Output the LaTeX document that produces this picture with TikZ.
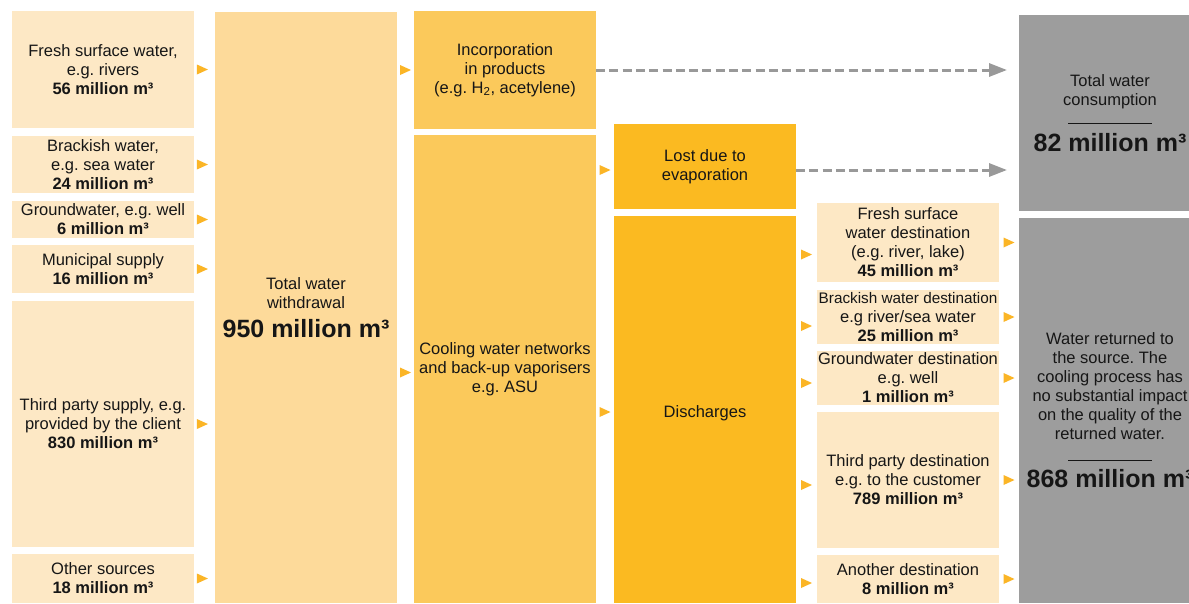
\documentclass[tikz,border=0pt]{standalone}
\usepackage{fontspec}
\setmainfont{Liberation Sans}
\frenchspacing
\usetikzlibrary{arrows.meta,decorations.markings}
\definecolor{pale}{HTML}{FDE8C5}
\definecolor{tan}{HTML}{FDDA9A}
\definecolor{mid}{HTML}{FBC95B}
\definecolor{deep}{HTML}{FBBA21}
\definecolor{stone}{HTML}{9D9D9D}
\definecolor{tipcol}{HTML}{FBB526}
\definecolor{ink}{HTML}{161616}
\definecolor{dashgrey}{HTML}{999999}
\newcommand\bigfig[1]{{\bfseries\fontsize{25}{29}\selectfont #1}}
\tikzset{
 box/.style={anchor=north west, inner sep=0pt, outer sep=0pt, minimum width=182pt,
   align=center, text=ink, font=\fontsize{16.5}{19}\selectfont},
 flow/.style={postaction={decorate}, decoration={markings, mark=at position #1 with
   {\fill[tipcol] (-5.5pt,-5pt) -- (5.5pt,0pt) -- (-5.5pt,5pt) -- cycle;}}},
 flow/.default=0.5,
 lossline/.style={draw=dashgrey, line width=3pt, dash pattern=on 9pt off 4.3pt,
   -{Triangle[length=18pt,width=13pt]}, shorten >=12pt},
}
\begin{document}
\begin{tikzpicture}[x=1pt,y=-1pt]
\useasboundingbox (0,0) rectangle (1189,603);
\fill[white] (0,0) rectangle (1189,603);
% sources
\node[box, fill=pale, minimum height=117pt] (s1) at (12,11) {Fresh surface water,\\e.g. rivers\\\textbf{56 million m³}};
\node[box, fill=pale, minimum height=57pt] (s2) at (12,136) {Brackish water,\\e.g. sea water\\\textbf{24 million m³}};
\node[box, fill=pale, minimum height=37pt] (s3) at (12,201) {Groundwater, e.g. well\\\textbf{6 million m³}};
\node[box, fill=pale, minimum height=48pt] (s4) at (12,245) {Municipal supply\\\textbf{16 million m³}};
\node[box, fill=pale, minimum height=246pt] (s5) at (12,301) {Third party supply, e.g.\\provided by the client\\\textbf{830 million m³}};
\node[box, fill=pale, minimum height=49pt] (s6) at (12,554) {Other sources\\\textbf{18 million m³}};
% total withdrawal
\node[box, fill=tan, minimum height=591pt] (total) at (215,12) {Total water\\withdrawal\\[10pt]\bigfig{950 million m³}};
% uses
\node[box, fill=mid, minimum height=118pt] (incorp) at (414,11) {Incorporation\\in products\\(e.g. H\textsubscript{2}, acetylene)};
\node[box, fill=mid, minimum height=468pt] (cooling) at (414,135) {Cooling water networks\\and back-up vaporisers\\e.g. ASU};
\node[box, fill=deep, minimum height=85pt] (lost) at (614,124) {Lost due to\\evaporation};
\node[box, fill=deep, minimum height=387pt] (disch) at (614,216) {\raisebox{-4pt}[\height][\depth]{Discharges}};
% destinations
\node[box, fill=pale, minimum height=79pt] (d1) at (817,203) {Fresh surface\\water destination\\(e.g. river, lake)\\\textbf{45 million m³}};
\node[box, fill=pale, minimum height=54pt] (d2) at (817,290) {{\fontsize{15.3}{19}\selectfont Brackish water destination}\\e.g river/sea water\\\textbf{25 million m³}};
\node[box, fill=pale, minimum height=54pt] (d3) at (817,351) {Groundwater destination\\e.g. well\\\textbf{1 million m³}};
\node[box, fill=pale, minimum height=136pt] (d4) at (817,412) {Third party destination\\e.g. to the customer\\\textbf{789 million m³}};
\node[box, fill=pale, minimum height=48pt] (d5) at (817,555) {Another destination\\\textbf{8 million m³}};
% results
\node[box, fill=stone, minimum height=196pt] (cons) at (1019,15) {Total water\\consumption\\\rule{84pt}{0.9pt}\\[8pt]\bigfig{82 million m³}};
\node[box, fill=stone, minimum height=385pt] (ret) at (1019,218) {Water returned to\\the source. The\\cooling process has\\no substantial impact\\on the quality of the\\returned water.\\[2pt]\rule{84pt}{0.9pt}\\[8pt]\bigfig{868 million m³}};
% flows
\foreach \s in {s1,s2,s3,s4,s5,s6}
  \path[flow=0.4] (\s.east) -- (total.west |- \s.east);
\path[flow] (total.east |- incorp.west) -- (incorp.west);
\path[flow] ([yshift=-3.5pt]total.east |- cooling.west) -- ([yshift=-3.5pt]cooling.west);
\path[flow] ([yshift=-3.5pt]cooling.east |- lost.west) -- ([yshift=-3.5pt]lost.west);
\path[flow] ([yshift=-2.5pt]cooling.east |- disch.west) -- ([yshift=-2.5pt]disch.west);
\path[flow] ([yshift=-12pt]disch.east |- d1.west) -- ([yshift=-12pt]d1.west);
\path[flow] ([yshift=-9pt]disch.east |- d2.west) -- ([yshift=-9pt]d2.west);
\path[flow] ([yshift=-5pt]disch.east |- d3.west) -- ([yshift=-5pt]d3.west);
\path[flow] ([yshift=-5pt]disch.east |- d4.west) -- ([yshift=-5pt]d4.west);
\path[flow] ([yshift=-4pt]disch.east |- d5.west) -- ([yshift=-4pt]d5.west);
\foreach \d in {d1,d2,d3,d4,d5}
  \path[flow] (\d.east) -- (ret.west |- \d.east);
\draw[lossline] (incorp.east) -- (cons.west |- incorp.east);
\draw[lossline] ([yshift=-3.5pt]lost.east) -- ([yshift=-3.5pt]cons.west |- lost.east);
\end{tikzpicture}
\end{document}
